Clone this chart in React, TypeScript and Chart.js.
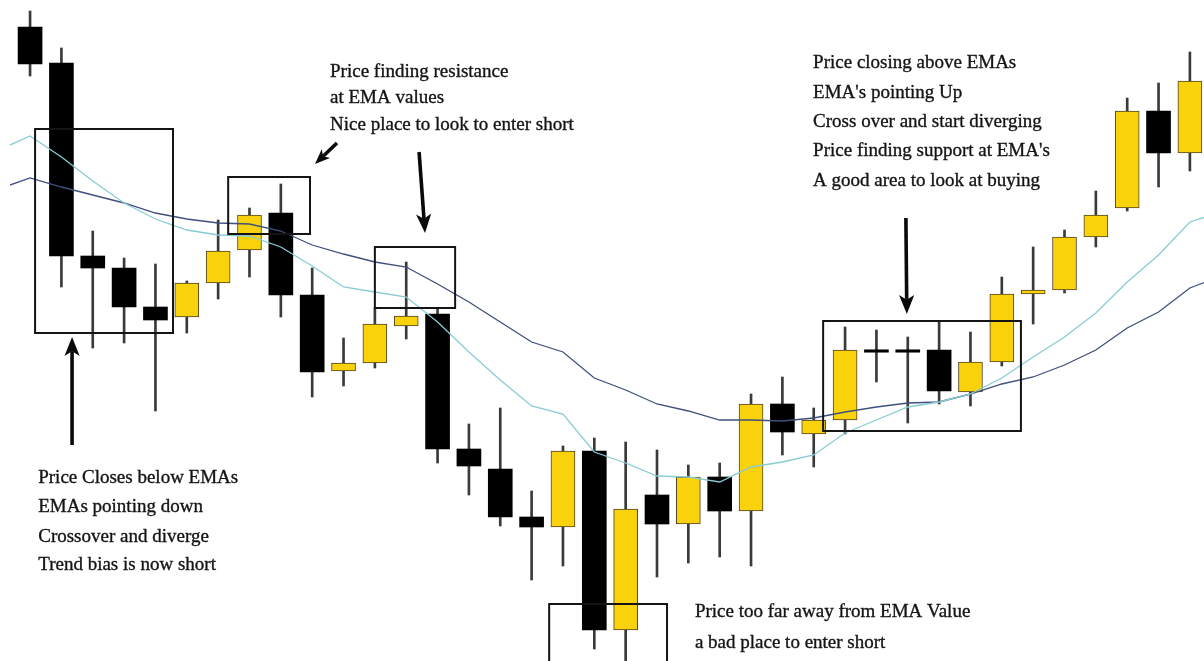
import React, { useEffect, useRef } from 'react';
import { Chart, registerables } from 'chart.js';

Chart.register(...registerables);

// ---- Data (price units; bar index = position on the x axis) ----
const opens = [
  63.4, 59.8, 40.5, 39.3, 35.4, 34.4, 37.8, 41.1, 44.8, 36.6,
  29.0, 29.8, 33.5, 34.7, 21.2, 19.2, 14.4, 13.4, 21.0, 3.1,
  16.6, 13.7, 18.4, 15.0, 25.7, 22.7, 24.1, 31.0, 31.0, 31.1,
  26.9, 29.9, 36.7, 37.1, 42.4, 45.3, 55.0, 50.8,
];
const highs = [
  65.0, 61.3, 43.0, 40.3, 39.7, 38.0, 44.1, 45.3, 47.7, 39.3,
  32.3, 35.3, 39.9, 35.3, 23.7, 25.3, 17.0, 21.5, 22.3, 21.9,
  21.1, 19.6, 19.8, 26.7, 28.4, 25.3, 33.4, 33.1, 32.4, 33.9,
  32.9, 38.4, 41.4, 43.1, 47.0, 56.3, 57.8, 60.9,
];
const lows = [
  58.5, 37.4, 31.3, 31.8, 25.0, 32.8, 36.2, 38.4, 34.4, 26.4,
  27.5, 29.3, 32.2, 19.8, 16.6, 13.5, 8.1, 9.5, 1.2, -1.0,
  8.4, 9.8, 10.4, 9.5, 20.6, 19.4, 22.7, 27.9, 23.8, 25.7,
  25.5, 29.5, 33.7, 36.8, 41.4, 45.0, 47.4, 49.0,
];
const closes = [
  59.7, 40.5, 39.3, 35.4, 34.1, 37.8, 41.0, 44.6, 36.6, 28.9,
  29.8, 33.7, 34.5, 21.2, 19.5, 14.4, 13.4, 21.0, 3.1, 15.2,
  13.7, 18.4, 15.0, 25.7, 22.9, 24.1, 31.1, 31.0, 31.0, 27.0,
  29.9, 36.7, 37.1, 42.4, 44.6, 55.0, 50.8, 58.0,
];

// EMA values start one bar before the first visible candle (index -1) and run one bar past the last
const EMA_FIRST_INDEX = -1;
const emaFast = [
  51.1, 52.5, 50.4, 48.0, 45.8, 44.2, 43.1, 42.6, 42.5, 41.4,
  39.5, 37.4, 36.9, 36.4, 33.9, 30.9, 28.1, 25.5, 24.7, 20.9,
  19.8, 18.5, 18.4, 17.9, 19.4, 19.9, 20.6, 22.8, 24.1, 25.4,
  25.9, 26.7, 28.3, 30.4, 32.4, 34.8, 37.9, 40.6, 43.9, 44.9,
];
const emaSlow = [
  47.2, 48.3, 47.4, 46.6, 45.8, 44.8, 44.2, 43.8, 43.7, 43.0,
  41.6, 40.7, 39.9, 39.4, 37.7, 35.9, 33.9, 31.9, 30.9, 28.3,
  27.1, 25.7, 25.0, 24.1, 24.1, 24.0, 24.3, 24.9, 25.4, 25.8,
  25.9, 26.7, 27.7, 28.4, 29.6, 31.1, 33.3, 34.9, 37.3, 38.5,
];

// ---- Annotations (anchored in data coordinates) ----
const boxes = [
  { x0: 0.16, x1: 4.56, yTop: 53.2, yBottom: 32.8 },
  { x0: 6.32, x1: 8.93, yTop: 48.4, yBottom: 42.7 },
  { x0: 11.0, x1: 13.56, yTop: 41.4, yBottom: 35.3 },
  { x0: 25.3, x1: 31.61, yTop: 34.0, yBottom: 23.0 },
  { x0: 16.56, x1: 20.32, yTop: 5.7, yBottom: -3.0 },
];
const arrows = [
  { fromX: 1.34, fromY: 21.6, toX: 1.34, toY: 32.4, head: 19 },
  { fromX: 9.79, fromY: 51.8, toX: 9.09, toY: 49.7, head: 15 },
  { fromX: 12.41, fromY: 50.9, toX: 12.6, toY: 42.8, head: 19 },
  { fromX: 27.94, fromY: 44.3, toX: 27.97, toY: 34.7, head: 19 },
];
const noteResistance = ['Price finding resistance', 'at EMA values', 'Nice place to look to enter short'];
const noteSupport = [
  'Price closing above EMAs',
  "EMA's pointing Up",
  'Cross over and start diverging',
  "Price finding support at EMA's",
  'A good area to look at buying',
];
const noteShort = ['Price Closes below EMAs', 'EMAs pointing down', 'Crossover and diverge', 'Trend bias is now short'];
const noteTooFar = ['Price too far away from EMA Value', 'a bad place to enter short'];

const textBlocks = [
  { lines: noteResistance, x: 9.57, ys: [58.9, 56.3, 53.6] },
  { lines: noteSupport, x: 24.98, ys: [59.8, 56.8, 53.9, 51.0, 48.0] },
  { lines: noteShort, x: 0.26, ys: [18.3, 15.4, 12.4, 9.6] },
  { lines: noteTooFar, x: 21.21, ys: [4.9, 1.8] },
];

const YELLOW = '#F9D20C';
const BLACK = '#000000';

const annotationPlugin = {
  id: 'emaNotes',
  afterDatasetsDraw(chart: any) {
    const { ctx, scales } = chart;
    const xs = scales.x;
    const ys = scales.y;
    ctx.save();
    // boxes
    ctx.strokeStyle = '#141414';
    ctx.lineWidth = 2;
    boxes.forEach((b) => {
      const l = xs.getPixelForValue(b.x0);
      const r = xs.getPixelForValue(b.x1);
      const t = ys.getPixelForValue(b.yTop);
      const bt = ys.getPixelForValue(b.yBottom);
      ctx.strokeRect(l, t, r - l, bt - t);
    });
    // arrows
    ctx.fillStyle = '#0a0a0a';
    ctx.strokeStyle = '#0a0a0a';
    arrows.forEach((a) => {
      const x1 = xs.getPixelForValue(a.fromX);
      const y1 = ys.getPixelForValue(a.fromY);
      const x2 = xs.getPixelForValue(a.toX);
      const y2 = ys.getPixelForValue(a.toY);
      const ang = Math.atan2(y2 - y1, x2 - x1);
      const h = a.head;
      const w = h * 0.4;
      const bx = x2 - Math.cos(ang) * h;
      const by = y2 - Math.sin(ang) * h;
      const nx = x2 - Math.cos(ang) * h * 0.75;
      const ny = y2 - Math.sin(ang) * h * 0.75;
      ctx.lineWidth = 3.6;
      ctx.beginPath();
      ctx.moveTo(x1, y1);
      ctx.lineTo(nx, ny);
      ctx.stroke();
      ctx.beginPath();
      ctx.moveTo(x2, y2);
      ctx.lineTo(bx + Math.cos(ang + Math.PI / 2) * w, by + Math.sin(ang + Math.PI / 2) * w);
      ctx.lineTo(nx, ny);
      ctx.lineTo(bx - Math.cos(ang + Math.PI / 2) * w, by - Math.sin(ang + Math.PI / 2) * w);
      ctx.closePath();
      ctx.fill();
    });
    // text
    ctx.fillStyle = '#141414';
    ctx.strokeStyle = '#141414';
    ctx.lineWidth = 0.35;
    ctx.font = '19px "Liberation Serif", serif';
    ctx.textBaseline = 'middle';
    ctx.textAlign = 'left';
    textBlocks.forEach((blk) => {
      const px = xs.getPixelForValue(blk.x);
      blk.lines.forEach((line, i) => {
        const py = ys.getPixelForValue(blk.ys[i]);
        ctx.fillText(line, px, py);
        ctx.strokeText(line, px, py);
      });
    });
    ctx.restore();
  },
};

export default function App() {
  const canvasRef = useRef<HTMLCanvasElement | null>(null);

  useEffect(() => {
    if (!canvasRef.current) return;
    const bodies = opens.map((o, i) => {
      const c = closes[i];
      const flat = Math.abs(c - o) < 0.05;
      return { x: i, y: flat ? [o - 0.12, o + 0.12] : [o, c] };
    });
    const wicks = lows.map((l, i) => ({ x: i, y: [l, highs[i]] }));
    const bodyColors = opens.map((o, i) => (closes[i] > o ? YELLOW : BLACK));
    const bodyBorders = opens.map((o, i) => (closes[i] > o ? '#4f4326' : BLACK));
    const bodyBorderWidths = opens.map((o, i) => (closes[i] > o ? 1 : 0));
    const fastPts = emaFast.map((v, i) => ({ x: EMA_FIRST_INDEX + i, y: v }));
    const slowPts = emaSlow.map((v, i) => ({ x: EMA_FIRST_INDEX + i, y: v }));

    const chart = new Chart(canvasRef.current, {
      type: 'bar',
      data: {
        datasets: [
          {
            type: 'line',
            label: 'Fast EMA',
            data: fastPts,
            borderColor: '#88ccd3',
            borderWidth: 1.3,
            pointRadius: 0,
            tension: 0,
            order: 0,
          } as any,
          {
            type: 'line',
            label: 'Slow EMA',
            data: slowPts,
            borderColor: '#3f4f7e',
            borderWidth: 1.3,
            pointRadius: 0,
            tension: 0,
            order: 0,
          } as any,
          {
            type: 'bar',
            label: 'Body',
            data: bodies,
            backgroundColor: bodyColors,
            borderColor: bodyBorders,
            borderWidth: bodyBorderWidths,
            borderSkipped: false,
            barThickness: 24,
            grouped: false,
            order: 1,
          } as any,
          {
            type: 'bar',
            label: 'Wick',
            data: wicks,
            backgroundColor: '#3a3a3a',
            borderWidth: 0,
            barThickness: 2,
            grouped: false,
            order: 2,
          } as any,
        ],
      },
      options: {
        animation: false,
        responsive: true,
        maintainAspectRatio: false,
        events: [],
        layout: { padding: { left: 10, right: 0, top: 0, bottom: 0 } },
        plugins: { legend: { display: false }, tooltip: { enabled: false }, title: { display: false } },
        scales: {
          x: { type: 'linear', min: -0.64, max: 37.45, offset: false, display: false },
          y: { type: 'linear', min: 0, max: 66.1, display: false },
        },
      },
      plugins: [annotationPlugin],
    });
    return () => chart.destroy();
  }, []);

  return (
    <div style={{ position: 'fixed', left: 0, top: 0, width: '1204px', height: '661px', background: '#ffffff' }}>
      <canvas ref={canvasRef} />
    </div>
  );
}
